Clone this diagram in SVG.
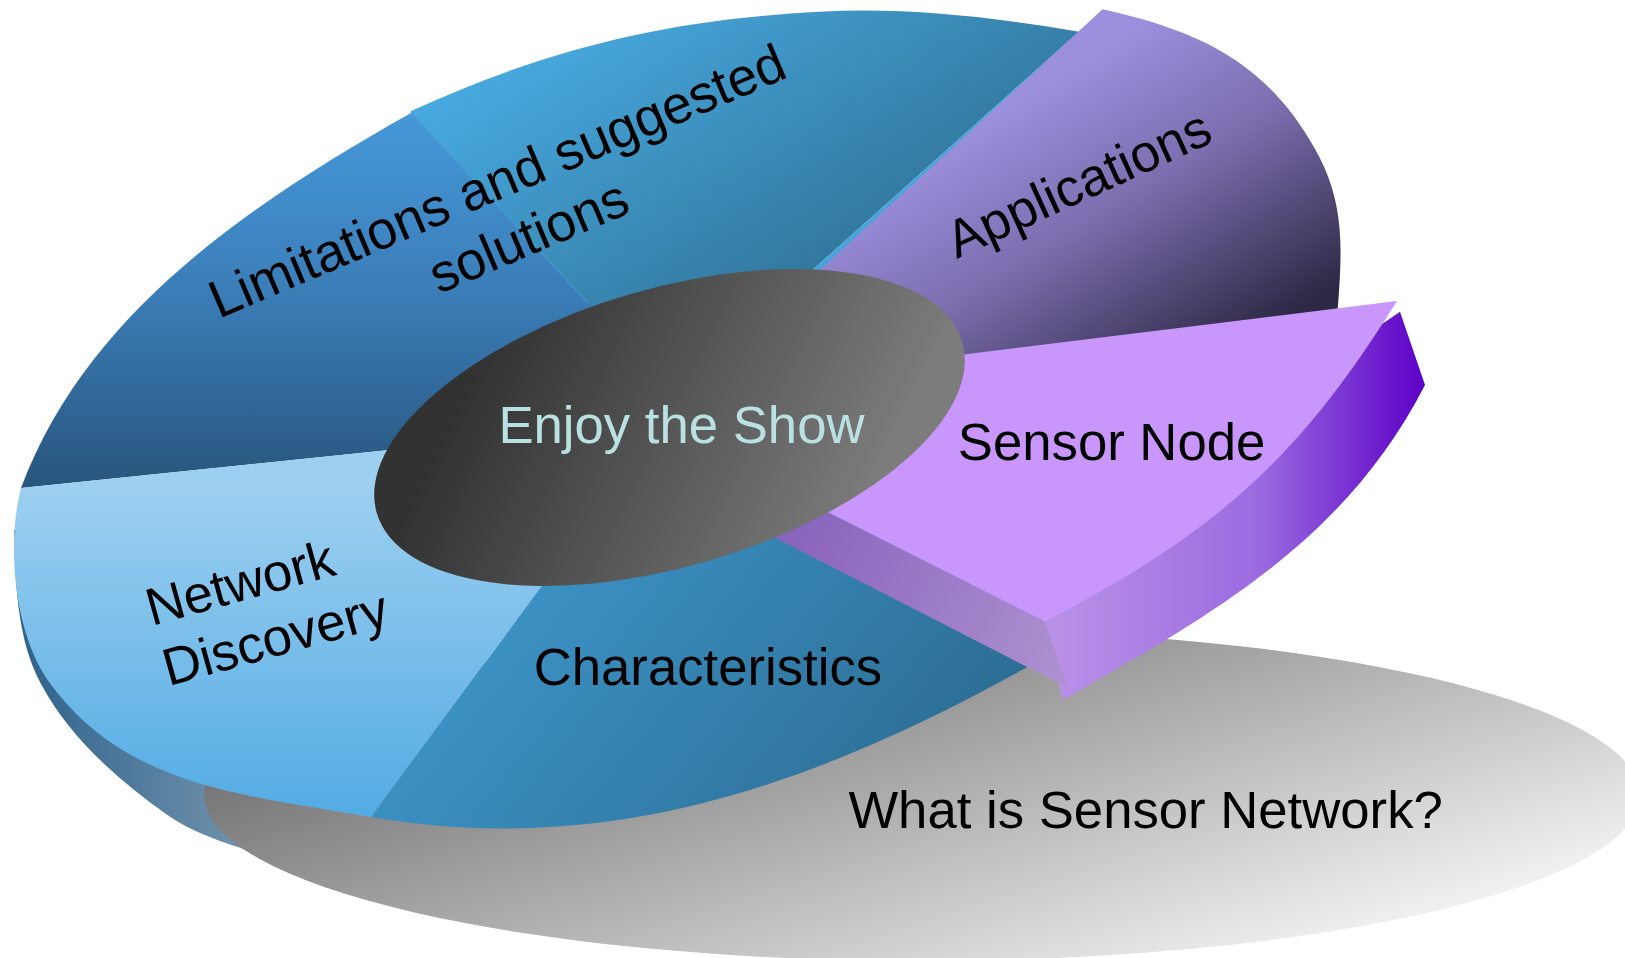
<svg xmlns="http://www.w3.org/2000/svg" width="1625" height="958" viewBox="0 0 1625 958">
  <style>
    .lbl { font-family: "Liberation Sans", Arial, sans-serif; font-size: 52.7px; fill: #000000; }
    .lbl-wide { font-size: 53.4px; }
    .hub-lbl { font-family: "Liberation Sans", Arial, sans-serif; font-size: 52.7px; fill: #b9e1e1; }
  </style>
  <defs>
    <!-- rim of the pie (visible thickness, lower left) -->
    <linearGradient id="gRim" gradientUnits="userSpaceOnUse" x1="20" y1="0" x2="270" y2="0">
      <stop offset="0" stop-color="#30628c"/>
      <stop offset="1" stop-color="#7898b0"/>
    </linearGradient>
    <!-- grey base disc -->
    <linearGradient id="gBase" gradientUnits="userSpaceOnUse" x1="193" y1="756" x2="363" y2="1292">
      <stop offset="0" stop-color="#6e6e6e"/>
      <stop offset="1" stop-color="#fafafa"/>
    </linearGradient>
    <linearGradient id="gLL" gradientUnits="userSpaceOnUse" x1="0" y1="110" x2="0" y2="490">
      <stop offset="0" stop-color="#4699da"/>
      <stop offset="0.5" stop-color="#3a7cb6"/>
      <stop offset="1" stop-color="#28557c"/>
    </linearGradient>
    <linearGradient id="gLR" gradientUnits="userSpaceOnUse" x1="471" y1="71" x2="713" y2="450">
      <stop offset="0" stop-color="#48aae0"/>
      <stop offset="1" stop-color="#2c6a8c"/>
    </linearGradient>
    <linearGradient id="gApp" gradientUnits="userSpaceOnUse" x1="990" y1="116" x2="1161" y2="395">
      <stop offset="0" stop-color="#9c8fdd"/>
      <stop offset="0.45" stop-color="#7a6cac"/>
      <stop offset="1" stop-color="#2d2844"/>
    </linearGradient>
    <linearGradient id="gND" gradientUnits="userSpaceOnUse" x1="0" y1="490" x2="0" y2="810">
      <stop offset="0" stop-color="#9ccff0"/>
      <stop offset="1" stop-color="#54ace4"/>
    </linearGradient>
    <linearGradient id="gChar" gradientUnits="userSpaceOnUse" x1="560" y1="580" x2="900" y2="860">
      <stop offset="0" stop-color="#3b90c2"/>
      <stop offset="1" stop-color="#2c6c92"/>
    </linearGradient>
    <linearGradient id="gSide" gradientUnits="userSpaceOnUse" x1="775" y1="540" x2="1065" y2="690">
      <stop offset="0" stop-color="#8862bc"/>
      <stop offset="1" stop-color="#ae92d0"/>
    </linearGradient>
    <linearGradient id="gOuter" gradientUnits="userSpaceOnUse" x1="1060" y1="0" x2="1425" y2="0">
      <stop offset="0" stop-color="#b890e8"/>
      <stop offset="0.55" stop-color="#9a6ae0"/>
      <stop offset="1" stop-color="#5c00c6"/>
    </linearGradient>
    <linearGradient id="gHub" gradientUnits="userSpaceOnUse" x1="406.6" y1="420.3" x2="708.8" y2="697.5">
      <stop offset="0" stop-color="#323232"/>
      <stop offset="1" stop-color="#7c7c7c"/>
    </linearGradient>
  </defs>

  <rect x="0" y="0" width="1625" height="958" fill="#ffffff"/>

  <!-- thickness of the pie seen on the lower left -->
  <g id="pie-rim">
    <path d="M 14 530 C 15.6 582 16.5 638.1 41 684 C 69.3 736.9 117.1 779.3 166 814 C 205.1 841.8 255.4 850.2 300 868 L 450 700 L 200 500 Z" fill="url(#gRim)"/>
  </g>

  <!-- grey base disc -->
  <g id="node-what-is">
    <ellipse cx="922" cy="795" rx="718" ry="166" fill="url(#gBase)"/>
    <text class="lbl" x="848.4" y="828.3">What is Sensor Network?</text>
  </g>

  <g id="node-limitations">
    <path d="M 680 420 L 21 488 C 85.8 314.1 249.3 204.1 411 113 L 424 108 L 662 358 Z" fill="url(#gLL)"/>
    <path d="M 680 420 L 640 358 L 411 113 L 411 111 C 549 48 668.2 19.6 820 11.7 C 906.9 7.2 993.2 17.2 1079 31.7 L 760 317 Z" fill="url(#gLR)"/>
    <!-- faint edge along the seam of the two halves -->
    <path d="M 411 112 L 588 303" fill="none" stroke="#47a0d9" stroke-width="1.5" stroke-opacity="0.6"/>
    <path d="M 1079 31.7 L 760 317 L 790 317 Z" fill="#48a3db"/>
    <text class="lbl lbl-wide" transform="translate(511 195) rotate(-23)" text-anchor="middle">
      <tspan x="0" y="0">Limitations and suggested</tspan>
      <tspan x="0" y="63">solutions</tspan>
    </text>
  </g>

  <g id="node-network-discovery">
    <path d="M 680 420 L 620 480 L 371 817 C 244.3 795.1 126 787 50 683.3 C 14.5 634.9 6 546.2 21 488 Z" fill="url(#gND)"/>
    <text class="lbl" transform="translate(151.7 626) rotate(-15.5)">
      <tspan x="0" y="0">Network</tspan>
      <tspan x="0" y="62.5">Discovery</tspan>
    </text>
  </g>

  <g id="node-characteristics">
    <path d="M 680 420 L 1100 640 L 1040 660 C 825 781 614.3 859 371 817 L 620 480 Z" fill="url(#gChar)"/>
    <text class="lbl" x="533.7" y="685">Characteristics</text>
  </g>

  <g id="node-applications">
    <path d="M 690 390 L 1102.5 9.3 C 1200 30.8 1267 62.7 1315.6 150 C 1344.8 202.4 1342.5 247.5 1337.5 312 Z" fill="url(#gApp)"/>
    <text class="lbl" transform="translate(1086 200) rotate(-24.5)" text-anchor="middle">Applications</text>
  </g>

  <!-- exploded slice: outer wall, front face, top face -->
  <g id="node-sensor">
    <path d="M 1040 610 L 1382 324 L 1400 311.7 L 1425 385 C 1344.5 540.8 1215 613 1063 700 Z" fill="url(#gOuter)"/>
    <path d="M 700 447.5 L 1044.7 621.7 L 1068 688 L 700 499.3 Z" fill="url(#gSide)"/>
    <path d="M 604 399 L 1397 301 C 1296.3 462.5 1213 533.6 1044.7 621.7 Z" fill="#c997fb"/>
    <text class="lbl" x="957.8" y="460">Sensor Node</text>
  </g>

  <g id="node-hub">
    <ellipse cx="669.5" cy="427.5" rx="305" ry="139" transform="rotate(-16.3 669.5 427.5)" fill="url(#gHub)"/>
    <text class="hub-lbl" x="498.4" y="442.7">Enjoy the Show</text>
  </g>

  <g id="connectors"/>
</svg>
